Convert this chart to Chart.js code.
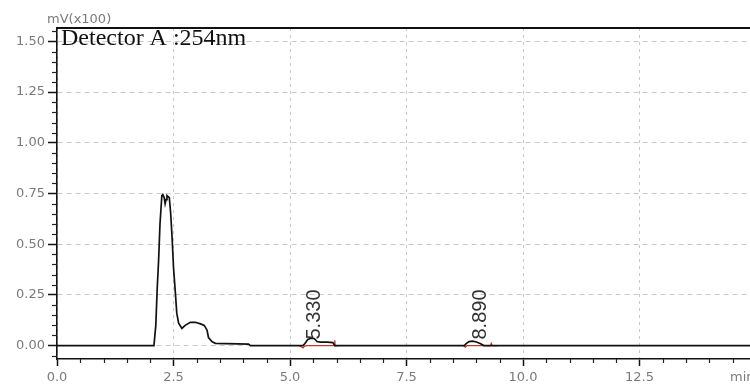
<!DOCTYPE html>
<html>
<head>
<meta charset="utf-8">
<script src="https://cdn.jsdelivr.net/npm/chart.js@4.4.1/dist/chart.umd.min.js"></script>
<style>
html,body{margin:0;padding:0;background:#fff;}
#wrap{width:750px;height:385px;position:relative;}
</style>
</head>
<body>
<div id="wrap"><canvas id="c" width="750" height="385"></canvas></div>
<script>
// ---- data (retention time in min, signal in mV x100) ----
const sigT = [0, 2.08, 2.12, 2.15, 2.18, 2.21, 2.25, 2.27, 2.30, 2.32, 2.34, 2.36, 2.41, 2.44, 2.47, 2.50, 2.54, 2.57, 2.61, 2.68, 2.75, 2.86, 2.97, 3.08, 3.16, 3.22, 3.25, 3.33, 3.40, 4.11, 4.15, 5.28, 5.32, 5.38, 5.45, 5.52, 5.58, 5.65, 5.80, 5.92, 5.96, 8.74, 8.78, 8.84, 8.92, 9.00, 9.08, 9.16, 14.87];
const sigY = [0, 0, 0.10, 0.28, 0.42, 0.60, 0.74, 0.745, 0.73, 0.70, 0.72, 0.74, 0.73, 0.65, 0.53, 0.385, 0.26, 0.16, 0.11, 0.085, 0.10, 0.115, 0.115, 0.107, 0.10, 0.076, 0.04, 0.019, 0.011, 0.007, 0, 0, 0.01, 0.03, 0.036, 0.035, 0.02, 0.017, 0.017, 0.015, 0, 0, 0.01, 0.02, 0.022, 0.018, 0.01, 0, 0];

// integration baselines (red)
const base1T = [5.20, 5.28, 5.31, 5.36, 5.95, 5.96, 5.97, 6.05];
const base1Y = [0, -0.012, -0.003, 0, 0, 0.027, 0, 0];
const base2T = [8.72, 8.76, 8.80, 9.30, 9.32, 9.34, 9.45];
const base2Y = [0, -0.008, 0, 0, 0.012, 0, 0];

// peak annotations
const peakTimes = [5.33, 8.89];
const peakLabels = ["5.330", "8.890"];

// axis ticks
const xTicks = [0, 2.5, 5.0, 7.5, 10.0, 12.5];
const yTicks = [0, 0.25, 0.5, 0.75, 1.0, 1.25, 1.5];
const xMinorStep = 0.5;
const yMinorStep = 0.05;

const xRange = [0, 14.87];
const yRange = [-0.066, 1.566];

const pts = (t, y) => t.map((v, i) => ({x: v, y: y[i]}));

const LABEL_FONT = {family: "'DejaVu Sans', sans-serif", size: 13};
const LABEL_COLOR = '#7a7a7a';

const extras = {
  id: 'extras',
  afterDraw(chart) {
    const ctx = chart.ctx;
    const a = chart.chartArea;
    const xs = chart.scales.x, ys = chart.scales.y;
    ctx.save();
    // top frame line
    ctx.strokeStyle = '#111';
    ctx.lineWidth = 2;
    ctx.beginPath();
    ctx.moveTo(a.left - 1, a.top);
    ctx.lineTo(a.right, a.top);
    ctx.stroke();
    // minor ticks
    ctx.lineWidth = 1.2;
    ctx.strokeStyle = '#222';
    for (let v = xRange[0] + xMinorStep; v < xRange[1]; v += xMinorStep) {
      const r = Math.round(v * 100) / 100;
      if (Math.abs(r / 2.5 - Math.round(r / 2.5)) < 1e-6) continue;
      const px = Math.round(xs.getPixelForValue(r)) + 0.5;
      ctx.beginPath();
      ctx.moveTo(px, a.bottom);
      ctx.lineTo(px, a.bottom + 4);
      ctx.stroke();
    }
    for (let v = -0.05; v < yRange[1]; v += yMinorStep) {
      const r = Math.round(v * 100) / 100;
      if (Math.abs(r / 0.25 - Math.round(r / 0.25)) < 1e-6) continue;
      const py = Math.round(ys.getPixelForValue(r)) + 0.5;
      ctx.beginPath();
      ctx.moveTo(a.left - 5, py);
      ctx.lineTo(a.left, py);
      ctx.stroke();
    }
    // title inside plot
    ctx.fillStyle = '#111';
    ctx.font = "24px 'Liberation Serif', serif";
    ctx.textAlign = 'left';
    ctx.textBaseline = 'alphabetic';
    ctx.fillText('Detector A :254nm', a.left + 4, a.top + 17);
    // unit label
    ctx.fillStyle = LABEL_COLOR;
    ctx.font = "13px 'DejaVu Sans', sans-serif";
    ctx.textBaseline = 'top';
    ctx.fillText('mV(x100)', 47, 13);
    // x unit
    ctx.fillText('min', 730, a.bottom + 12);
    // peak labels (rotated)
    ctx.fillStyle = '#333';
    ctx.font = "20px 'Liberation Sans', sans-serif";
    ctx.textAlign = 'left';
    ctx.textBaseline = 'middle';
    peakTimes.forEach((t, i) => {
      const px = xs.getPixelForValue(t) + 9;
      const py = ys.getPixelForValue(0.03);
      ctx.save();
      ctx.translate(px, py);
      ctx.rotate(-Math.PI / 2);
      ctx.fillText(peakLabels[i], 0, 0);
      ctx.restore();
    });
    ctx.restore();
  }
};

new Chart(document.getElementById('c'), {
  type: 'line',
  data: {
    datasets: [
      {data: pts(sigT, sigY), borderColor: '#111', borderWidth: 1.7, pointRadius: 0, tension: 0, order: 0},
      {data: pts(base1T, base1Y), borderColor: '#c0392b', borderWidth: 1.2, pointRadius: 0, tension: 0, order: 1},
      {data: pts(base2T, base2Y), borderColor: '#c0392b', borderWidth: 1.2, pointRadius: 0, tension: 0, order: 1}
    ]
  },
  options: {
    responsive: false,
    devicePixelRatio: 1,
    animation: false,
    events: [],
    layout: {padding: {top: 28, left: 0, right: 0, bottom: 0}},
    plugins: {legend: {display: false}, tooltip: {enabled: false}, title: {display: false}},
    scales: {
      x: {
        type: 'linear',
        min: xRange[0], max: xRange[1],
        afterBuildTicks: s => { s.ticks = xTicks.map(v => ({value: v})); },
        afterFit: s => { s.height = 26; },
        ticks: {
          autoSkip: false, maxRotation: 0, padding: 4,
          font: LABEL_FONT, color: LABEL_COLOR,
          callback: v => Number(v).toFixed(1)
        },
        grid: {
          color: '#c8c8c8', lineWidth: 1,
          drawTicks: true, tickLength: 7, tickColor: '#111', tickWidth: 1.5, tickBorderDash: []
        },
        border: {display: true, color: '#111', width: 1.6, dash: [3, 4]}
      },
      y: {
        type: 'linear',
        min: yRange[0], max: yRange[1],
        afterBuildTicks: s => { s.ticks = yTicks.map(v => ({value: v})); },
        afterFit: s => { s.width = 57; },
        ticks: {
          autoSkip: false, padding: 3,
          font: LABEL_FONT, color: LABEL_COLOR,
          callback: v => Number(v).toFixed(2)
        },
        grid: {
          color: '#c8c8c8', lineWidth: 1,
          drawTicks: true, tickLength: 9, tickColor: '#111', tickWidth: 1.5, tickBorderDash: []
        },
        border: {display: true, color: '#111', width: 1.6, dash: [5, 4]}
      }
    }
  },
  plugins: [extras]
});
</script>
</body>
</html>
